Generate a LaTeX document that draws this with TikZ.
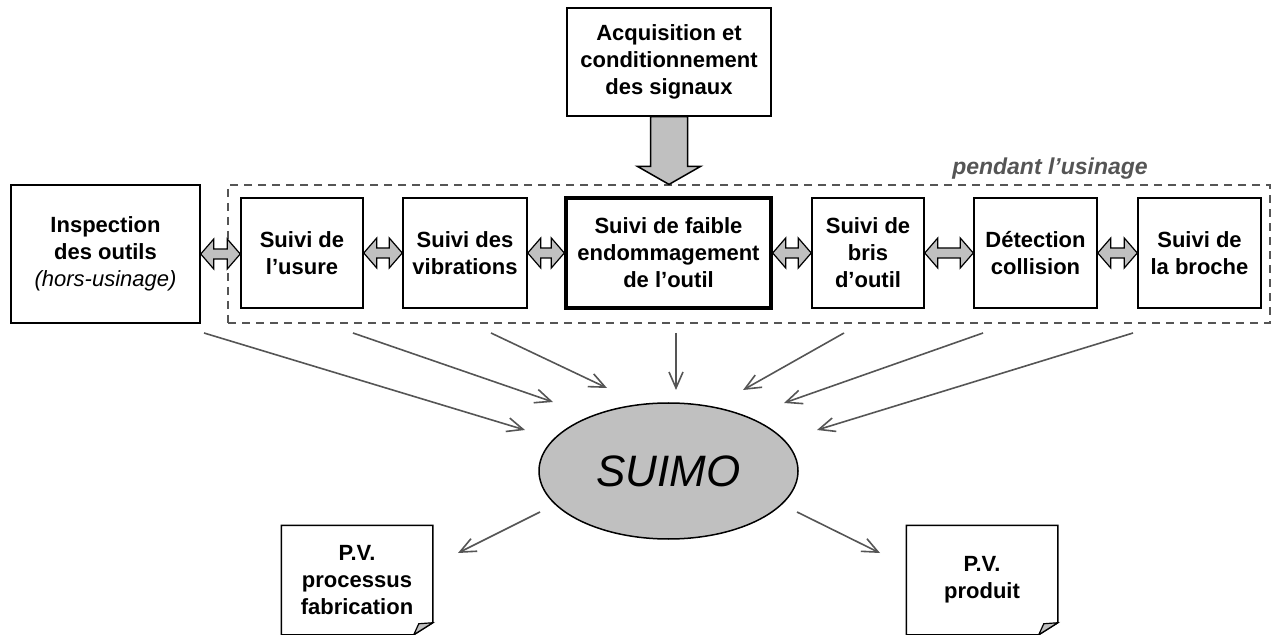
\documentclass[tikz,border=0pt]{standalone}
\usepackage{fontspec}
\setmainfont{Liberation Sans}
\usetikzlibrary{arrows.meta,calc,shapes.geometric}

\definecolor{fillgray}{HTML}{C0C0C0}
\definecolor{linegray}{HTML}{555555}

% sheet with a folded corner, drawn around a named node
\newcommand{\pvsheet}[1]{%
  \draw[line width=0.75pt] (#1.north west) -- (#1.north east)
    -- ([yshift=6pt]#1.south east) -- ([xshift=-9.5pt]#1.south east)
    -- (#1.south west) -- cycle;
  \draw[line width=0.6pt, fill=fillgray] ([yshift=6pt]#1.south east)
    -- ([xshift=-9.5pt]#1.south east) -- ([xshift=-7pt,yshift=5.5pt]#1.south east) -- cycle;
}

\tikzset{
  box/.style={draw, line width=0.75pt, fill=white, align=center, inner sep=0pt,
    font=\fontsize{11}{13.5}\selectfont\bfseries},
  mainbox/.style={box, line width=1.7pt},
  sheet/.style={box, draw=none},
  feed/.style={draw=linegray, line width=0.8pt, -{Straight Barb[length=8pt,width=7pt]}},
  biarrow/.style={draw, fill=fillgray, line width=0.6pt, to path={
    let \p1=(\tikztostart), \p2=(\tikztotarget) in
    (\x1,\y1) -- (\x1+6.5pt,\y1+7.5pt) -- (\x1+6.5pt,\y1+2.5pt) -- (\x2-6.5pt,\y1+2.5pt)
    -- (\x2-6.5pt,\y1+7.5pt) -- (\x2,\y1) -- (\x2-6.5pt,\y1-7.5pt) -- (\x2-6.5pt,\y1-2.5pt)
    -- (\x1+6.5pt,\y1-2.5pt) -- (\x1+6.5pt,\y1-7.5pt) -- cycle}},
  bigarrow/.style={draw, fill=fillgray, line width=0.75pt, to path={
    let \p1=(\tikztostart), \p2=(\tikztotarget) in
    (\x1-9.25pt,\y1) -- (\x1+9.25pt,\y1) -- (\x1+9.25pt,\y2+9pt) -- (\x1+15.75pt,\y2+9pt)
    -- (\x1,\y2) -- (\x1-15.75pt,\y2+9pt) -- (\x1-9.25pt,\y2+9pt) -- cycle}}
}

\begin{document}
\begin{tikzpicture}[x=0.5pt,y=-0.5pt]
\useasboundingbox (0,0) rectangle (1273,635);

% zone pendant l'usinage
\node[draw=linegray, dash pattern=on 4pt off 3pt, line width=0.6pt, minimum width=521pt, minimum height=69pt, inner sep=0pt] (zone) at (749,254) {};
\node[text=linegray, font=\fontsize{11.5}{13}\selectfont\bfseries\itshape] (zonelabel) at (1050,169) {pendant l’usinage};

\node[box, minimum width=102pt, minimum height=54pt] (acq) at (669,62) {Acquisition et\\conditionnement\\des signaux};

\node[box, minimum width=94.5pt, minimum height=69pt] (insp) at (105.5,254) {Inspection\\des outils\\{\mdseries\itshape (hors-usinage)}};
\node[box, minimum width=61pt, minimum height=55pt] (usure) at (302,253) {Suivi de\\l’usure};
\node[box, minimum width=62pt, minimum height=55pt] (vib) at (465,253) {Suivi des\\vibrations};
\node[mainbox, minimum width=102.5pt, minimum height=55pt] (faible) at (668.5,253) {Suivi de faible\\endommagement\\de l’outil};
\node[box, minimum width=56pt, minimum height=55pt] (bris) at (868,253) {Suivi de\\bris\\d’outil};
\node[box, minimum width=61.5pt, minimum height=55pt] (coll) at (1035.5,253) {Détection\\collision};
\node[box, minimum width=61.5pt, minimum height=55pt] (broche) at (1199.5,253) {Suivi de\\la broche};

\node[ellipse, draw, fill=fillgray, line width=0.75pt, minimum width=129.5pt, minimum height=68pt, inner sep=0pt, font=\fontsize{22}{26}\selectfont\itshape] (suimo) at (668.5,471) {SUIMO};

\node[sheet, minimum width=75pt, minimum height=54pt] (pvproc) at (357,580) {P.V.\\processus\\fabrication};
\node[sheet, minimum width=75pt, minimum height=54pt] (pvprod) at (982,580) {P.V.\\produit};
\pvsheet{pvproc}
\pvsheet{pvprod}

\draw[bigarrow] (acq.south) to (acq.south |- zone.north);

\draw[biarrow] (insp.east) to (usure.west);
\draw[biarrow] (usure.east) to (vib.west);
\draw[biarrow] (vib.east) to (faible.west);
\draw[biarrow] (faible.east) to (bris.west);
\draw[biarrow] (bris.east) to (coll.west);
\draw[biarrow] (coll.east) to (broche.west);

% vers SUIMO et vers les P.V.
\foreach \i/\a/\b/\c/\d in {1/204/333/525/430, 2/353/333/553/402, 3/491/333/607/388,
    4/676/333/676/390, 5/844/333/743/390, 6/983/333/784/403, 7/1133/333/817/430,
    8/540/512/458/553, 9/797/512/880/553} {
  \coordinate (s\i) at (\a,\b);
  \coordinate (t\i) at (\c,\d);
  \draw[feed] (s\i) -- (t\i);
}
\end{tikzpicture}
\end{document}
